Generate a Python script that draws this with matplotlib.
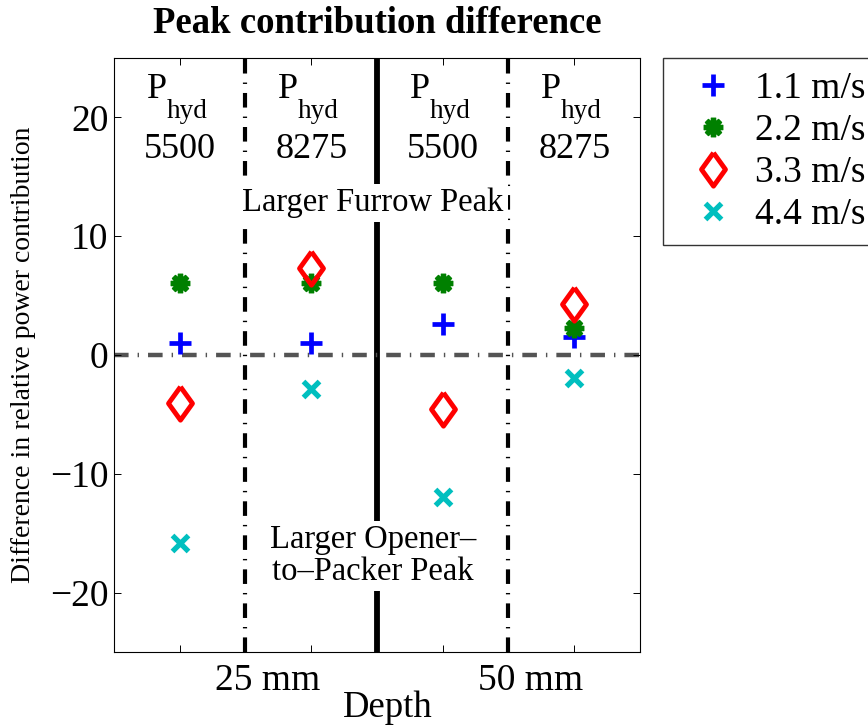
import matplotlib
matplotlib.use("Agg")
import matplotlib.pyplot as plt
import matplotlib.transforms as mtransforms

plt.rcParams.update({"font.family": ["Liberation Serif", "DejaVu Serif"],
                     "lines.scale_dashes": False, "axes.linewidth": 0.8})

# data
depth_pos = [1, 2, 3, 4]
pressure = ["5500", "8275", "5500", "8275"]
speeds = ["1.1 m/s", "2.2 m/s", "3.3 m/s", "4.4 m/s"]
diff_11 = [1.0, 1.0, 2.6, 1.5]
diff_22 = [6.1, 6.05, 6.1, 2.3]
diff_33 = [-4.0, 7.3, -4.55, 4.3]
diff_44 = [-15.8, -2.9, -11.95, -1.95]
xtick_pos = [1, 1.5, 2, 2.5, 3, 3.5, 4]
xtick_lab = ["", "25 mm", "", "", "", "50 mm", ""]

DASHDOT = (0, (10.5, 6.5, 1.0, 6.5))
DIAMOND = [(0, 1), (0.72, 0), (0, -1), (-0.72, 0), (0, 1)]

fig = plt.figure(figsize=(8.68, 7.27), dpi=100)
ax = fig.add_axes([0.1313, 0.1032, 0.606, 0.817])

# separators
ax.axvline(1.5, color="k", lw=3, ls=DASHDOT, zorder=1)
ax.axvline(3.5, color="k", lw=3, ls=DASHDOT, zorder=1)
ax.axvline(2.5, color="k", lw=4.2, zorder=1)
ax.axhline(0, color="0.33", lw=3.2, ls=DASHDOT, zorder=1)

ax.plot(depth_pos, diff_11, ls="none", marker="+", color="b", ms=16, mew=3.4, label=speeds[0], zorder=3)
ax.plot(depth_pos, diff_22, ls="none", marker=(8, 2, 0), color=(0, 0.5, 0), ms=14, mew=3.8, label=speeds[1], zorder=3)
ax.plot(depth_pos, diff_33, ls="none", marker=DIAMOND, color="r", mfc="none", ms=24, mew=3.5, label=speeds[2], zorder=3)
ax.plot(depth_pos, diff_44, ls="none", marker="x", color=(0, 0.75, 0.75), ms=11, mew=3.8, label=speeds[3], zorder=3)

# column headers
for xp, p in zip(depth_pos, pressure):
    ax.annotate("P", (xp, 21.6), xytext=(-33, 0), textcoords="offset pixels",
                fontsize=26, ha="left", va="baseline")
    ax.annotate("hyd", (xp, 19.95), xytext=(-13, 0), textcoords="offset pixels",
                fontsize=19.5, ha="left", va="baseline")
    ax.text(xp, 16.6, p, fontsize=26, ha="center", va="baseline")

box = dict(boxstyle="square,pad=0.12", fc="white", ec="none")
ax.text(2.47, 12.8, "Larger Furrow Peak", fontsize=23.5, ha="center", va="center",
        bbox=box, zorder=2)
ax.text(2.47, -16.9, "Larger Opener–\nto–Packer Peak", fontsize=23.5, ha="center",
        va="center", linespacing=1.05, bbox=box, zorder=2)

ax.set_xlim(0.5, 4.5)
ax.set_ylim(-25, 25)
ax.set_yticks([-20, -10, 0, 10, 20])
ax.set_xticks(xtick_pos)
ax.set_xticklabels(xtick_lab)
ax.tick_params(direction="in", top=True, right=True, length=5, width=0.7, labelsize=27)
ax.tick_params(axis="x", pad=8)
ax.tick_params(axis="y", pad=4)
shift = mtransforms.ScaledTranslation(0.22, 0, fig.dpi_scale_trans)
for lab in ax.get_xticklabels():
    lab.set_transform(lab.get_transform() + shift)

ax.set_title("Peak contribution difference", fontsize=26.5, fontweight="bold", pad=18)
ax.set_xlabel("Depth", fontsize=26.5, va="baseline")
ax.xaxis.set_label_coords(0.521, -0.1094)
ax.set_ylabel("Difference in relative power contribution", fontsize=20, va="center")
ax.yaxis.set_label_coords(-0.172, 0.5)

leg = ax.legend(loc="upper left", bbox_to_anchor=(1.044, 1.0), fontsize=27,
                frameon=True, fancybox=False, edgecolor="k", borderpad=0.35,
                labelspacing=0.2, handlelength=1.95, handletextpad=0.15,
                borderaxespad=0, numpoints=1)
leg.get_frame().set_linewidth(1.0)

fig.savefig("out.png", dpi=100)
